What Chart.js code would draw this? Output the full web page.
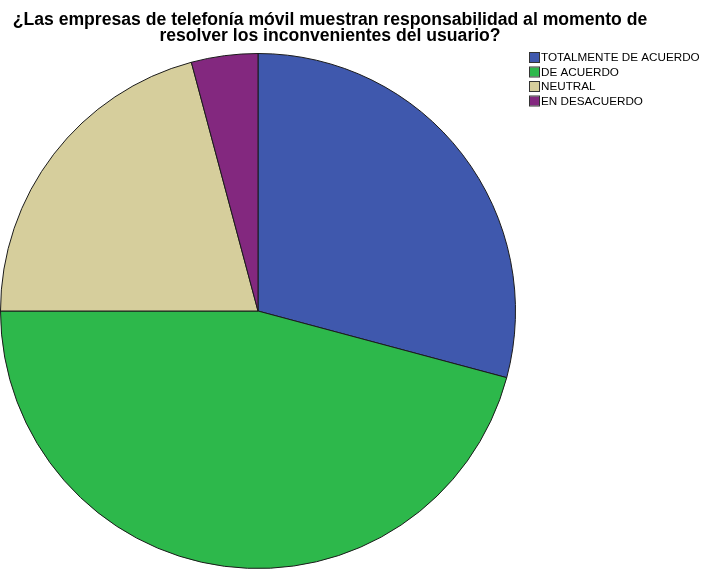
<!DOCTYPE html>
<html>
<head>
<meta charset="utf-8">
<script src="https://cdn.jsdelivr.net/npm/chart.js@4/dist/chart.umd.min.js"></script>
<style>
  html, body { margin: 0; padding: 0; background: #ffffff; }
  #wrap { position: relative; width: 703px; height: 570px; }
  canvas { display: block; }
</style>
</head>
<body>
<div id="wrap"><canvas id="chart" width="703" height="570"></canvas></div>
<script>
// Survey answers: responsibility of mobile phone companies when solving user problems
const titleLines = [
  '¿Las empresas de telefonía móvil muestran responsabilidad al momento de',
  'resolver los inconvenientes del usuario?'
];
const categories = ['TOTALMENTE DE ACUERDO', 'DE ACUERDO', 'NEUTRAL', 'EN DESACUERDO'];
const counts = [7, 11, 5, 1];
const sliceColors = ['#3F58AD', '#2DB84B', '#D6CE9C', '#83287F'];

// Title drawn centered above the pie
const titlePlugin = {
  id: 'spssTitle',
  afterDraw(chart) {
    const ctx = chart.ctx;
    ctx.save();
    ctx.fillStyle = '#000';
    ctx.font = 'bold 17.6px "Liberation Sans", Arial, sans-serif';
    ctx.textAlign = 'center';
    ctx.textBaseline = 'alphabetic';
    ctx.fillText(titleLines[0], 330, 24.5);
    ctx.fillText(titleLines[1], 330, 41);
    ctx.restore();
  }
};

// Legend with small square swatches at the upper right
const legendPlugin = {
  id: 'boxLegend',
  afterDraw(chart) {
    const ctx = chart.ctx;
    const labels = chart.data.labels;
    const colors = chart.data.datasets[0].backgroundColor;
    ctx.save();
    ctx.font = '11.7px "Liberation Sans", Arial, sans-serif';
    ctx.textBaseline = 'middle';
    ctx.textAlign = 'left';
    labels.forEach((lab, i) => {
      const y = 57.5 + i * 14.5;
      ctx.fillStyle = colors[i];
      ctx.fillRect(530, y - 4.5, 9, 9);
      ctx.strokeStyle = '#333';
      ctx.lineWidth = 1;
      ctx.strokeRect(529.5, y - 5, 10, 10);
      ctx.fillStyle = '#000';
      ctx.fillText(lab, 541, y + 0.5);
    });
    ctx.restore();
  }
};

new Chart(document.getElementById('chart'), {
  type: 'pie',
  data: {
    labels: categories,
    datasets: [{
      data: counts,
      backgroundColor: sliceColors,
      borderColor: '#1b1b1b',
      borderWidth: 1
    }]
  },
  options: {
    responsive: false,
    animation: false,
    layout: { padding: { left: 0, top: 52, right: 187, bottom: 0 } },
    plugins: {
      legend: { display: false },
      title: { display: false },
      tooltip: { enabled: false }
    }
  },
  plugins: [titlePlugin, legendPlugin]
});
</script>
</body>
</html>
